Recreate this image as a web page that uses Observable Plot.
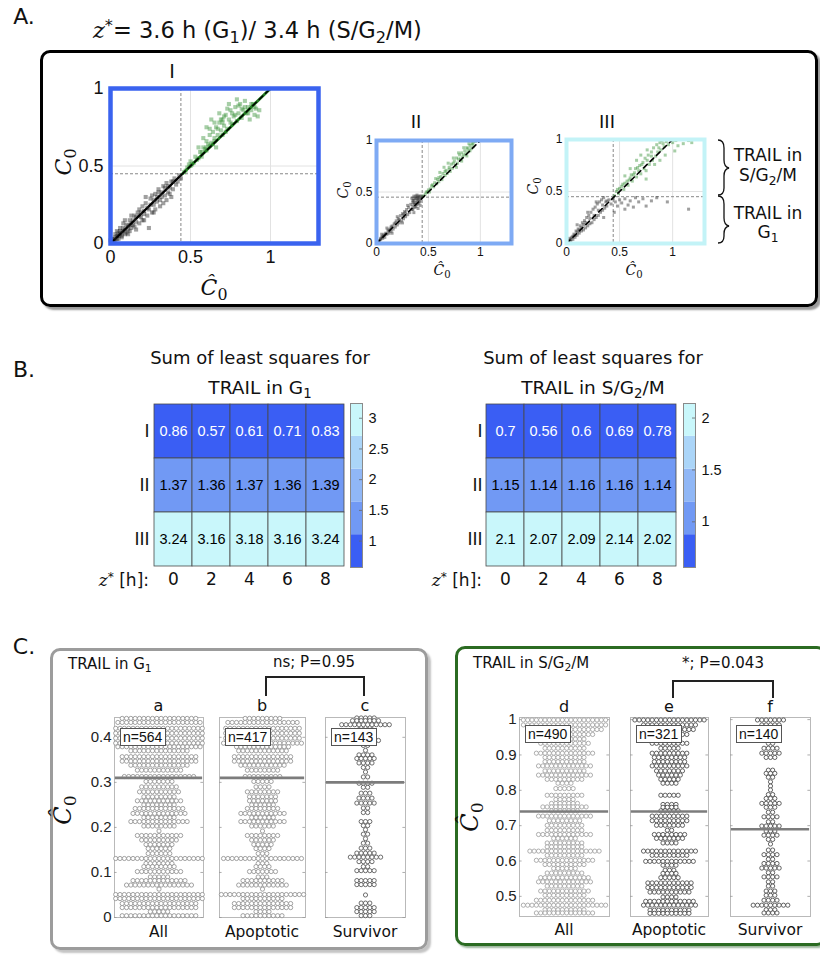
<!DOCTYPE html>
<html><head><meta charset="utf-8">
<script src="https://cdn.jsdelivr.net/npm/d3@7"></script>
<script src="https://cdn.jsdelivr.net/npm/@observablehq/plot@0.6"></script>
<style>
body{margin:0;background:#fff;}
#fig{position:relative;width:820px;height:956px;overflow:hidden;background:#fff;}
#fig sub{font-size:72%;vertical-align:-0.28em;line-height:0;}
#fig sup{font-size:72%;vertical-align:0.45em;line-height:0;}
</style></head>
<body><div id="fig"></div>
<script>
// ---------------- DATA ----------------
// Panel A scatter: [Ĉ0, C0] pairs
const gridX = [0.5, 1], gridY = [0.5];
const thrX = 0.44, thrY = 0.45;
const diag = [0, 1];
const aI_G1 = [[0.01,0.01],[0.02,0.03],[0.03,0.02],[0.04,0.05],[0.05,0.03],[0.06,0.08],[0.07,0.05],[0.08,0.1],[0.09,0.06],[0.1,0.12],[0.1,0.07],[0.11,0.09],[0.12,0.15],[0.13,0.1],[0.14,0.12],[0.15,0.18],[0.15,0.11],[0.16,0.14],[0.17,0.2],[0.18,0.13],[0.19,0.17],[0.2,0.24],[0.2,0.15],[0.21,0.19],[0.22,0.26],[0.23,0.18],[0.24,0.1],[0.24,0.22],[0.25,0.29],[0.26,0.2],[0.27,0.25],[0.28,0.32],[0.28,0.22],[0.29,0.27],[0.3,0.35],[0.31,0.28],[0.31,0.24],[0.32,0.3],[0.33,0.37],[0.34,0.31],[0.35,0.28],[0.35,0.39],[0.36,0.33],[0.37,0.36],[0.38,0.4],[0.38,0.3],[0.39,0.35],[0.4,0.42],[0.41,0.38],[0.42,0.4],[0.43,0.44],[0.44,0.42],[0.05,0.07],[0.07,0.04],[0.12,0.08],[0.03,0.06],[0.08,0.13],[0.16,0.09],[0.26,0.31],[0.3,0.33],[0.34,0.36],[0.22,0.3],[0.09,0.15],[0.0,0.02],[0.01,0.03],[0.02,0.01],[0.03,0.04],[0.04,0.03],[0.05,0.05],[0.06,0.06],[0.07,0.07],[0.08,0.08],[0.09,0.09],[0.11,0.11],[0.12,0.12],[0.13,0.13],[0.14,0.15],[0.16,0.17],[0.18,0.18],[0.19,0.2],[0.21,0.21],[0.23,0.23],[0.25,0.25],[0.27,0.28],[0.29,0.3],[0.32,0.33],[0.36,0.37],[0.39,0.4],[0.11,0.06],[0.13,0.18],[0.18,0.22],[0.21,0.15],[0.33,0.26],[0.37,0.32],[0.27,0.2],[0.06,0.1],[0.04,0.08]];
const aI_S = [[0.46,0.46],[0.48,0.49],[0.5,0.5],[0.5,0.53],[0.52,0.52],[0.53,0.56],[0.55,0.55],[0.56,0.59],[0.57,0.56],[0.58,0.62],[0.6,0.6],[0.6,0.66],[0.61,0.64],[0.62,0.7],[0.63,0.65],[0.64,0.72],[0.65,0.68],[0.66,0.75],[0.67,0.7],[0.68,0.78],[0.69,0.73],[0.7,0.8],[0.7,0.7],[0.71,0.76],[0.72,0.83],[0.73,0.74],[0.74,0.8],[0.75,0.86],[0.76,0.77],[0.77,0.82],[0.78,0.88],[0.79,0.79],[0.8,0.84],[0.81,0.9],[0.82,0.81],[0.83,0.86],[0.84,0.92],[0.85,0.84],[0.86,0.88],[0.87,0.8],[0.88,0.86],[0.89,0.9],[0.9,0.83],[0.91,0.87],[0.92,0.82],[0.63,0.8],[0.6,0.75],[0.68,0.84],[0.58,0.68],[0.74,0.9],[0.55,0.62],[0.79,0.93],[0.66,0.62],[0.47,0.47],[0.49,0.51],[0.51,0.51],[0.54,0.54],[0.57,0.59],[0.59,0.61],[0.62,0.63],[0.65,0.66],[0.67,0.74],[0.69,0.8],[0.71,0.82],[0.73,0.87],[0.76,0.84],[0.78,0.83],[0.8,0.89],[0.82,0.87],[0.84,0.88],[0.86,0.84],[0.88,0.9],[0.9,0.88],[0.93,0.86],[0.62,0.74],[0.65,0.78],[0.7,0.78],[0.72,0.72],[0.75,0.78],[0.6,0.62],[0.64,0.64]];
const aII_G1 = [[0.01,0.01],[0.02,0.03],[0.03,0.02],[0.04,0.04],[0.05,0.06],[0.06,0.05],[0.07,0.08],[0.08,0.06],[0.09,0.1],[0.1,0.09],[0.11,0.13],[0.12,0.1],[0.13,0.14],[0.14,0.12],[0.15,0.17],[0.16,0.14],[0.17,0.19],[0.18,0.16],[0.19,0.22],[0.2,0.18],[0.21,0.24],[0.22,0.2],[0.23,0.27],[0.24,0.22],[0.25,0.29],[0.26,0.24],[0.27,0.31],[0.28,0.26],[0.29,0.33],[0.3,0.28],[0.31,0.35],[0.32,0.3],[0.33,0.38],[0.34,0.33],[0.35,0.4],[0.35,0.36],[0.36,0.42],[0.37,0.38],[0.37,0.44],[0.38,0.4],[0.38,0.46],[0.39,0.42],[0.4,0.45],[0.4,0.39],[0.41,0.43],[0.42,0.46],[0.42,0.41],[0.43,0.44],[0.44,0.46],[0.36,0.46],[0.39,0.47],[0.34,0.44],[0.1,0.15],[0.2,0.26],[0.15,0.1],[0.25,0.2],[0.05,0.09],[0.3,0.37],[0.36,0.3],[0.4,0.34],[0.38,0.36],[0.35,0.33],[0.37,0.35],[0.39,0.38],[0.41,0.4],[0.42,0.37],[0.36,0.39],[0.4,0.43],[0.38,0.44],[0.41,0.46],[0.35,0.42],[0.02,0.02],[0.04,0.05],[0.06,0.07],[0.08,0.09],[0.12,0.12],[0.14,0.16],[0.18,0.2],[0.22,0.23],[0.26,0.28],[0.28,0.3]];
const aII_S = [[0.45,0.46],[0.47,0.48],[0.49,0.5],[0.5,0.52],[0.52,0.53],[0.53,0.56],[0.55,0.55],[0.56,0.59],[0.58,0.58],[0.59,0.62],[0.6,0.6],[0.62,0.65],[0.63,0.62],[0.64,0.68],[0.66,0.66],[0.67,0.71],[0.68,0.68],[0.7,0.74],[0.71,0.7],[0.72,0.77],[0.73,0.73],[0.75,0.8],[0.76,0.76],[0.77,0.83],[0.78,0.78],[0.8,0.86],[0.81,0.82],[0.82,0.88],[0.83,0.84],[0.85,0.9],[0.86,0.87],[0.87,0.93],[0.88,0.89],[0.9,0.95],[0.91,0.92],[0.92,0.97],[0.93,0.94],[0.95,0.99],[0.94,1.0],[0.89,0.97],[0.84,0.93],[0.79,0.88],[0.74,0.83],[0.69,0.78],[0.65,0.74],[0.61,0.69],[0.57,0.63],[0.77,0.74],[0.82,0.8],[0.87,0.85],[0.48,0.5],[0.51,0.5],[0.54,0.57],[0.6,0.64],[0.66,0.7],[0.7,0.72],[0.74,0.78],[0.79,0.82],[0.84,0.86],[0.88,0.92],[0.9,0.9],[0.93,0.97]];
const aIII_G1 = [[0.01,0.01],[0.02,0.03],[0.03,0.05],[0.04,0.02],[0.05,0.06],[0.06,0.04],[0.07,0.09],[0.08,0.06],[0.09,0.12],[0.1,0.08],[0.11,0.14],[0.12,0.1],[0.13,0.17],[0.14,0.12],[0.15,0.2],[0.16,0.13],[0.17,0.22],[0.18,0.15],[0.19,0.25],[0.2,0.17],[0.21,0.27],[0.22,0.19],[0.23,0.3],[0.24,0.2],[0.25,0.33],[0.26,0.23],[0.27,0.35],[0.28,0.25],[0.29,0.38],[0.3,0.27],[0.31,0.4],[0.32,0.3],[0.33,0.42],[0.34,0.32],[0.35,0.44],[0.36,0.34],[0.37,0.4],[0.38,0.36],[0.4,0.42],[0.42,0.38],[0.44,0.43],[0.46,0.4],[0.48,0.36],[0.5,0.42],[0.52,0.39],[0.55,0.43],[0.58,0.37],[0.6,0.41],[0.63,0.35],[0.65,0.44],[0.68,0.4],[0.72,0.43],[0.75,0.36],[0.8,0.41],[0.85,0.44],[0.95,0.4],[1.15,0.33],[0.2,0.3],[0.1,0.18],[0.28,0.4],[0.35,0.25],[0.45,0.3],[0.55,0.33],[0.02,0.01],[0.04,0.04],[0.06,0.07],[0.08,0.08],[0.1,0.11],[0.12,0.13],[0.14,0.15],[0.16,0.18],[0.18,0.2],[0.22,0.24],[0.26,0.27],[0.3,0.32],[0.34,0.37],[0.38,0.41]];
const aIII_S = [[0.45,0.46],[0.47,0.5],[0.49,0.48],[0.5,0.53],[0.52,0.55],[0.54,0.52],[0.55,0.58],[0.57,0.6],[0.58,0.56],[0.6,0.63],[0.61,0.66],[0.62,0.6],[0.64,0.68],[0.65,0.72],[0.66,0.64],[0.68,0.7],[0.69,0.75],[0.7,0.67],[0.72,0.78],[0.73,0.72],[0.74,0.82],[0.75,0.7],[0.77,0.85],[0.78,0.76],[0.8,0.88],[0.81,0.8],[0.82,0.92],[0.84,0.84],[0.85,0.95],[0.86,0.88],[0.88,0.97],[0.89,0.9],[0.9,0.99],[0.92,0.93],[0.94,0.98],[0.96,0.95],[0.98,1.0],[1.0,0.97],[1.03,0.99],[1.05,0.94],[1.08,1.0],[1.1,0.96],[1.15,0.99],[1.18,0.97],[0.66,0.8],[0.7,0.85],[0.76,0.9],[0.6,0.72],[0.55,0.65],[0.83,0.76],[0.93,0.85],[1.02,0.89],[0.75,0.62],[0.88,0.8],[0.48,0.52],[0.53,0.57],[0.59,0.61],[0.63,0.66],[0.67,0.73],[0.71,0.76],[0.76,0.8],[0.8,0.84],[0.87,0.92],[0.91,0.96]];

// Panel B heatmaps
const zHours = [0, 2, 4, 6, 8];
const modelRows = ["I", "II", "III"];
const sumsG1 = [[0.86,0.57,0.61,0.71,0.83],[1.37,1.36,1.37,1.36,1.39],[3.24,3.16,3.18,3.16,3.24]];
const sumsSG2M = [[0.7,0.56,0.6,0.69,0.78],[1.15,1.14,1.16,1.16,1.14],[2.1,2.07,2.09,2.14,2.02]];
const blues = ["#3a5ef4","#7199f4","#90b7f6","#abd5f8","#c9f7fb"];
const cbTicksG1 = [1, 1.5, 2, 2.5, 3];
const cbTicksS = [1, 1.5, 2];

// Panel C beeswarms: row levels (Ĉ0) and number of cells per row
const aV = [0.442,0.433,0.420,0.409,0.398,0.387,0.379,0.370,0.357,0.347,0.338,0.327,0.313,0.302,0.290,0.279,0.268,0.259,0.250,0.242,0.231,0.222,0.213,0.203,0.192,0.182,0.172,0.162,0.153,0.142,0.131,0.120,0.113,0.102,0.090,0.082,0.072,0.063,0.051,0.042,0.031,0.022,0.013,0.004];
const aN = [18,20,21,21,21,21,20,14,18,18,14,11,17,7,9,10,8,11,8,12,13,8,14,8,1,11,9,7,6,6,21,7,8,11,5,13,16,1,21,21,18,18,5,18];
const bN = [9,17,18,18,18,19,13,12,14,14,11,8,9,5,4,8,7,7,6,8,11,6,11,6,1,8,6,5,4,3,19,3,4,7,3,10,12,1,20,10,14,14,4,10];
const cV = [0.443,0.437,0.428,0.417,0.403,0.393,0.382,0.371,0.361,0.353,0.343,0.333,0.323,0.312,0.298,0.289,0.276,0.265,0.254,0.243,0.233,0.213,0.204,0.195,0.185,0.175,0.165,0.154,0.143,0.134,0.124,0.113,0.104,0.082,0.073,0.050,0.032,0.022,0.013,0.004];
const cN = [5,7,12,4,3,7,2,1,4,5,4,2,1,2,4,2,3,4,5,2,2,3,2,1,2,1,2,3,5,8,4,2,5,5,5,1,3,5,5,3];
const dV = [0.999,0.985,0.972,0.958,0.945,0.933,0.919,0.905,0.893,0.881,0.869,0.855,0.843,0.831,0.820,0.805,0.786,0.774,0.763,0.753,0.742,0.727,0.714,0.701,0.687,0.675,0.664,0.651,0.640,0.628,0.616,0.602,0.590,0.579,0.566,0.553,0.541,0.529,0.515,0.503,0.489,0.475,0.462,0.453];
const dN = [20,20,18,14,10,12,10,14,10,10,13,10,13,9,4,5,9,5,7,11,7,13,8,9,9,13,6,9,9,17,9,14,10,6,9,12,13,9,12,10,14,20,10,14];
const eV = [0.999,0.985,0.972,0.958,0.945,0.933,0.919,0.905,0.893,0.881,0.869,0.855,0.843,0.831,0.820,0.786,0.760,0.752,0.742,0.727,0.714,0.701,0.687,0.675,0.664,0.651,0.628,0.616,0.599,0.588,0.574,0.565,0.553,0.538,0.525,0.512,0.498,0.486,0.475,0.461,0.452];
const eN = [17,13,12,9,5,9,5,9,8,8,9,7,6,5,4,5,4,4,5,9,9,7,2,8,7,4,13,9,12,4,3,4,5,11,11,10,4,12,13,10,10];
const fV = [0.999,0.985,0.972,0.958,0.945,0.933,0.919,0.905,0.893,0.857,0.848,0.837,0.824,0.812,0.801,0.788,0.777,0.763,0.752,0.738,0.725,0.711,0.699,0.685,0.673,0.661,0.648,0.631,0.618,0.605,0.593,0.580,0.567,0.555,0.541,0.529,0.515,0.503,0.489,0.475,0.462,0.453];
const fN = [7,5,4,4,3,2,4,5,3,2,3,2,1,1,1,2,3,5,3,2,4,2,5,3,4,2,1,2,4,2,4,5,2,4,2,2,3,3,4,9,3,4];
const medG1 = [0.31, 0.31, 0.30];
const medS = [0.74, 0.74, 0.69];
const nG1 = [564, 417, 143];
const nS = [490, 321, 140];
const groups = ["All", "Apoptotic", "Survivor"];
const lettersG1 = ["a", "b", "c"], lettersS = ["d", "e", "f"];
const ticksG1 = [0, 0.1, 0.2, 0.3, 0.4];
const ticksS = [0.5, 0.6, 0.7, 0.8, 0.9, 1];

// ---------------- HELPERS ----------------
const SANS = "'DejaVu Sans', sans-serif";
const NUM = "'Liberation Sans', Arial, sans-serif";
const MATH = "font-family:'DejaVu Serif','Liberation Serif',serif;font-style:italic;";
const fig = document.getElementById("fig");
const m = s => `<span style="${MATH}">${s}</span>`;
const c0 = s => `<span style="${MATH}">${s}<sub style="font-style:normal">0</sub></span>`;

function label(html, x, y, o = {}) {
  const {size = 16, family = SANS, anchor = "middle", rotate = 0, color = "#111", extra = ""} = o;
  const d = document.createElement("div");
  d.innerHTML = html;
  const tx = anchor === "middle" ? "-50%" : anchor === "end" ? "-100%" : "0";
  d.style.cssText = `position:absolute;left:${x}px;top:${y}px;font-size:${size}px;font-family:${family};color:${color};white-space:nowrap;line-height:1.15;transform:translate(${tx},-50%) rotate(${rotate}deg);${extra}`;
  fig.appendChild(d);
  return d;
}
function box(x, y, w, h, css) {
  const d = document.createElement("div");
  d.style.cssText = `position:absolute;left:${x}px;top:${y}px;width:${w}px;height:${h}px;box-sizing:border-box;${css}`;
  fig.appendChild(d);
  return d;
}
function plotAt(fr, mg, opts) {
  const svg = Plot.plot({
    ...opts,
    width: fr.x1 - fr.x0 + mg.l + mg.r,
    height: fr.y1 - fr.y0 + mg.t + mg.b,
    marginLeft: mg.l, marginRight: mg.r, marginTop: mg.t, marginBottom: mg.b,
    style: {background: "transparent", overflow: "visible", ...(opts.style || {})}
  });
  svg.style.position = "absolute";
  svg.style.left = (fr.x0 - mg.l) + "px";
  svg.style.top = (fr.y0 - mg.t) + "px";
  fig.appendChild(svg);
  return svg;
}

// ---------------- FRAMES / BOXES ----------------
box(40, 50, 778, 257, "border:3px solid #000;border-radius:10px;box-shadow:3px 3px 2px #9a9a9a;");
box(50, 648, 378, 302, "border:3px solid #9c9c9c;border-radius:10px;box-shadow:3px 3px 2px #c4c4c4;");
box(455, 646, 372, 300, "border:3px solid #2b6b22;border-radius:10px;box-shadow:2px 2px 2px #9bb59b;");

// ---------------- PANEL A ----------------
label("A.", 24, 17, {size: 22});
label(m("z") + "<sup>*</sup>= 3.6 h (G<sub>1</sub>)/ 3.4 h (S/G<sub>2</sub>/M)", 93, 31, {size: 22.5, anchor: "start"});

function scatter(fr, g1, s, edge, fs, ew, r, pad, solid) {
  const marks = [
    Plot.ruleX(gridX, {stroke: "#e2e2e2", strokeWidth: 1}),
    Plot.ruleY(gridY, {stroke: "#e2e2e2", strokeWidth: 1}),
    Plot.ruleX([thrX], {stroke: "#888", strokeDasharray: "3,2", strokeWidth: 1}),
    Plot.ruleY([thrY], {stroke: "#888", strokeDasharray: "3,2", strokeWidth: 1}),
    Plot.dot(g1, {x: d => d[0], y: d => d[1], symbol: "square", r, fill: "#1a1a1a", fillOpacity: 0.42}),
    Plot.dot(s, {x: d => d[0], y: d => d[1], symbol: "square", r, fill: "#2a8a2a", fillOpacity: 0.42})
  ];
  if (solid) {
    marks.push(Plot.line(diag.map(v => v * thrY), {x: d => d, y: d => d, stroke: "#111", strokeWidth: 2.4}));
    marks.push(Plot.line(diag.map(v => thrY + v * (1 - thrY)), {x: d => d, y: d => d, stroke: "#1f7a1f", strokeWidth: 2.8}));
  }
  marks.push(Plot.line(diag, {x: d => d, y: d => d, stroke: "#000", strokeWidth: 1.6, strokeDasharray: "5,4"}));
  marks.push(Plot.frame({stroke: edge, strokeWidth: ew}));
  return plotAt(fr, {l: 40, r: 4, t: 4, b: 30}, {
    x: {domain: [0, 1.3], ticks: [0, 0.5, 1], tickSize: 0, tickPadding: pad, tickFormat: d => d, label: null},
    y: {domain: [0, 1], ticks: [0, 0.5, 1], tickSize: 0, tickPadding: pad, tickFormat: d => d, label: null},
    style: {fontSize: fs + "px", fontFamily: NUM, color: "#111"},
    marks
  });
}
scatter({x0: 110, x1: 318, y0: 88, y1: 243}, aI_G1, aI_S, "#3a63ef", 18, 4.5, 2.3, 7, true);
scatter({x0: 376, x1: 511, y0: 140, y1: 243}, aII_G1, aII_S, "#7eaaf4", 12, 4, 1.7, 4, false);
scatter({x0: 566, x1: 704, y0: 139, y1: 243}, aIII_G1, aIII_S, "#c3f3f7", 12, 4, 1.7, 4, false);

label("I", 172, 72, {size: 19});
label("II", 416, 122, {size: 18});
label("III", 607, 122, {size: 18});
label(c0("C"), 64, 162, {size: 22, rotate: -90});
label(c0("Ĉ"), 214, 288, {size: 22});
label(c0("C"), 343, 190, {size: 14, rotate: -90});
label(c0("Ĉ"), 442, 270, {size: 14});
label(c0("C"), 533, 186, {size: 14, rotate: -90});
label(c0("Ĉ"), 634, 270, {size: 14});

// braces
const ns = "http://www.w3.org/2000/svg";
const br = document.createElementNS(ns, "svg");
br.setAttribute("width", 30); br.setAttribute("height", 120);
br.style.cssText = "position:absolute;left:712px;top:134px;";
br.innerHTML = '<path d="M6,6 Q12,6 12,14 L12,26 Q12,33 17,34 Q12,35 12,42 L12,54 Q12,61 6,61" fill="none" stroke="#111" stroke-width="1.3"/>' +
               '<path d="M6,62 Q12,62 12,70 L12,84 Q12,91 17,92 Q12,93 12,100 L12,102 Q12,109 6,109" fill="none" stroke="#111" stroke-width="1.3"/>';
fig.appendChild(br);
label("TRAIL in", 768, 156, {size: 17});
label("S/G<sub>2</sub>/M", 768, 176, {size: 17});
label("TRAIL in", 768, 214, {size: 17});
label("G<sub>1</sub>", 768, 233, {size: 17});

// ---------------- PANEL B ----------------
label("B.", 24, 370, {size: 22});

function heat(fr, cb, sums, cbTicks, cx, title2) {
  const data = sums.flatMap((row, i) => row.map((v, j) => ({row: modelRows[i], z: zHours[j], v})));
  const [lo, hi] = d3.extent(data, d => d.v);
  const step = (hi - lo) / blues.length;
  const thresholds = d3.range(1, blues.length).map(i => lo + i * step);
  const color = {type: "threshold", domain: thresholds, range: blues};
  plotAt(fr, {l: 30, r: 2, t: 2, b: 30}, {
    x: {type: "band", domain: zHours, padding: 0, tickSize: 0, tickPadding: 6, label: null},
    y: {type: "band", domain: modelRows, padding: 0, tickSize: 0, tickPadding: 4, label: null},
    color,
    style: {fontSize: "17px", fontFamily: SANS, color: "#111"},
    marks: [
      Plot.cell(data, {x: "z", y: "row", fill: "v", stroke: "#4a4a4a", strokeWidth: 0.8}),
      Plot.text(data, {x: "z", y: "row", text: d => String(d.v), fontSize: 14.5, fontFamily: NUM, fill: d => d.v < thresholds[0] ? "white" : "black"})
    ]
  });
  const bands = d3.range(blues.length).map(i => ({y1: lo + i * step, y2: lo + (i + 1) * step, m: lo + (i + 0.5) * step}));
  plotAt(cb, {l: 2, r: 30, t: 2, b: 2}, {
    x: {domain: [0, 1], axis: null},
    y: {domain: [lo, hi], ticks: cbTicks, axis: "right", tickSize: 0, tickPadding: 6, tickFormat: d => d, label: null},
    color,
    style: {fontSize: "14.5px", fontFamily: NUM, color: "#111"},
    marks: [
      Plot.rect(bands, {x1: 0, x2: 1, y1: "y1", y2: "y2", fill: "m"}),
      Plot.ruleY(cbTicks, {x1: 0.75, x2: 1, stroke: "#666", strokeWidth: 0.8}),
      Plot.frame({stroke: "#8a8a8a", strokeWidth: 1})
    ]
  });
  label("Sum of least squares for", cx, 358, {size: 18});
  label(title2, cx, 388, {size: 18.5});
  label(m("z") + "<sup>*</sup> [h]:", fr.x0 - 4, 581, {size: 17, anchor: "end"});
}
heat({x0: 153, x1: 345, y0: 403, y1: 566}, {x0: 350, x1: 362, y0: 403, y1: 567}, sumsG1, cbTicksG1, 260, "TRAIL in G<sub>1</sub>");
heat({x0: 486, x1: 676, y0: 403, y1: 566}, {x0: 683, x1: 695, y0: 403, y1: 567}, sumsSG2M, cbTicksS, 593, "TRAIL in S/G<sub>2</sub>/M");

// ---------------- PANEL C ----------------
label("C.", 24, 647, {size: 22});
const slotPx = 4.33;
function strip(fr, V, N, ydom, med, col, ticks, showAxis) {
  const half = (fr.x1 - fr.x0) / 2 / slotPx;
  const pts = V.flatMap((v, i) => d3.range(N[i]).map(j => ({x: j - (N[i] - 1) / 2, y: v})));
  return plotAt(fr, {l: 40, r: 4, t: 4, b: 4}, {
    x: {domain: [-half, half], axis: null},
    y: {domain: ydom, ticks, axis: showAxis ? "left" : null, tickSize: 0, tickPadding: 3, tickFormat: d => d, label: null},
    style: {fontSize: "15px", fontFamily: NUM, color: "#222"},
    marks: [
      Plot.frame({stroke: "#b9b9b9", strokeWidth: 1}),
      Plot.ruleY(ticks, {x1: -half, x2: -half + 0.6, stroke: "#999", strokeWidth: 0.8}),
      Plot.ruleY(ticks, {x1: half - 0.6, x2: half, stroke: "#999", strokeWidth: 0.8}),
      Plot.dot(pts, {x: "x", y: "y", r: 2.1, stroke: col, fill: "white", strokeWidth: 0.8}),
      Plot.ruleY([med], {x1: -half + 0.2, x2: half - 0.2, stroke: "#7c7c7c", strokeWidth: 2.6})
    ]
  });
}
const framesG1 = [{x0: 114, x1: 203, y0: 717, y1: 917}, {x0: 219, x1: 305, y0: 717, y1: 917}, {x0: 325, x1: 405, y0: 717, y1: 917}];
const framesS = [{x0: 519, x1: 609, y0: 717, y1: 916}, {x0: 630, x1: 708, y0: 717, y1: 916}, {x0: 730, x1: 810, y0: 717, y1: 916}];
const domG1 = [0, 0.444], domS = [0.443, 1.006];
const swG1 = [[aV, aN], [aV, bN], [cV, cN]];
const swS = [[dV, dN], [eV, eN], [fV, fN]];
const colsG1 = ["#8c8c8c", "#8c8c8c", "#4a4a4a"], colsS = ["#9a9a9a", "#3d3d3d", "#3d3d3d"];

swG1.forEach(([V, N], i) => strip(framesG1[i], V, N, domG1, medG1[i], colsG1[i], ticksG1, i === 0));
swS.forEach(([V, N], i) => strip(framesS[i], V, N, domS, medS[i], colsS[i], ticksS, i === 0));

function annot(frames, ns_, letters, ly, by, nyTop) {
  frames.forEach((fr, i) => {
    const cx = (fr.x0 + fr.x1) / 2;
    label(letters[i], cx, ly, {size: 16});
    label(groups[i], cx, by, {size: 15.5});
    label("n=" + ns_[i], fr.x0 + 6, nyTop, {size: 14, family: NUM, anchor: "start",
      extra: "background:#fff;border:1px solid #555;padding:1px 3px 0 2px;line-height:15px;"});
  });
}
annot(framesG1, nG1, lettersG1, 706, 933, 737);
annot(framesS, nS, lettersS, 707, 931, 734);

label("TRAIL in G<sub>1</sub>", 68, 665, {size: 15, anchor: "start"});
label("TRAIL in S/G<sub>2</sub>/M", 473, 664, {size: 15, anchor: "start"});
label("ns; P=0.95", 314, 663, {size: 15});
label("*; P=0.043", 723, 664, {size: 15});
box(265, 676, 100, 20, "border:2px solid #222;border-bottom:none;");
box(672, 680, 102, 18, "border:2px solid #222;border-bottom:none;");
label(c0("Ĉ"), 64, 810, {size: 24, rotate: -90});
label(c0("Ĉ"), 471, 817, {size: 24, rotate: -90});
</script>
</body></html>
